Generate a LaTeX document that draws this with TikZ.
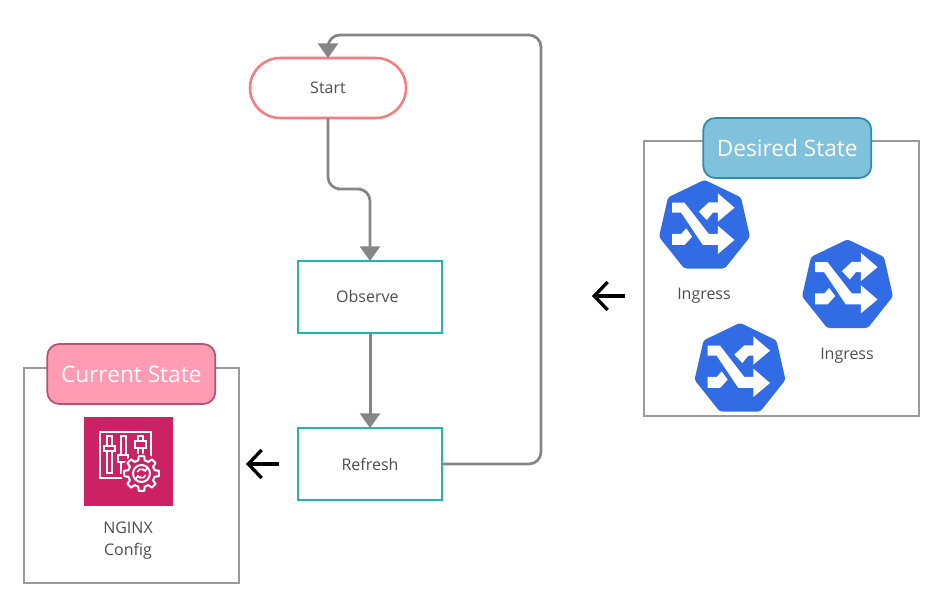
\documentclass[tikz,border=0pt]{standalone}
\usepackage{fontspec}
\setmainfont{Open Sans}
\usepackage{tikz}
\usetikzlibrary{arrows.meta,shapes.geometric,shapes.misc}
\definecolor{linegray}{HTML}{858585}
\definecolor{boxgray}{HTML}{9A9A9A}
\definecolor{labelgray}{HTML}{4D4D4D}
\definecolor{startred}{HTML}{F97B82}
\definecolor{stepteal}{HTML}{22B3B3}
\definecolor{currentfill}{HTML}{FF9BB3}
\definecolor{currentline}{HTML}{B5526F}
\definecolor{desiredfill}{HTML}{80C2DC}
\definecolor{desiredline}{HTML}{2F8CA8}
\definecolor{ingressblue}{HTML}{326CE5}
\definecolor{configred}{HTML}{CC2264}
\tikzset{
    labelnode/.style = {
        align=center,
        font=\fontsize{12pt}{16.5pt}\selectfont,
        text=labelgray,
        inner sep=0pt,
        outer sep=0pt
    },
    startnode/.style = {
        labelnode,
        rounded rectangle,
        draw=startred,
        line width=1.9pt,
        minimum width=117pt,
        minimum height=45pt
    },
    stepnode/.style = {
        labelnode,
        rectangle,
        draw=stepteal,
        line width=1.5pt,
        minimum width=108pt,
        minimum height=54pt
    },
    framenode/.style = {
        rectangle,
        draw=boxgray,
        line width=1.5pt,
        inner sep=0pt,
        outer sep=0pt
    },
    headernode/.style = {
        rectangle,
        rounded corners=9pt,
        line width=1.3pt,
        text=white,
        font=\fontsize{17pt}{20pt}\selectfont,
        minimum width=126pt,
        minimum height=45pt,
        inner sep=0pt,
        outer sep=0pt
    },
    ingressnode/.style = {
        regular polygon,
        regular polygon sides=7,
        minimum size=70pt,
        fill=ingressblue,
        rounded corners=2pt,
        inner sep=0pt,
        outer sep=0pt
    },
    flowline/.style = {
        draw=linegray,
        line width=2pt,
        rounded corners=9pt,
        -{Triangle[length=11pt,width=15pt]}
    },
    stateline/.style = {
        draw=black,
        line width=2.5pt,
        -{Straight Barb[length=10pt,width=21pt,line width=2.5pt]}
    },
    iconline/.style = {
        draw=white,
        line width=1.5pt
    }
}

\begin{document}
\begin{tikzpicture}[x=0.75pt,y=-0.75pt]
    \useasboundingbox (0,0) rectangle (950,609);
    % flow
    \node [startnode] (start) at (328,88) {Start};
    \node [stepnode] (observe) at (370,297) {\hspace*{-2pt}Observe\hspace*{2pt}};
    \node [stepnode] (refresh) at (370,464) {Refresh};
    \coordinate (startbend) at (349,189);
    \coordinate (looptop) at (541,35);
    \draw [flowline] (start.south) |- (startbend) -| (observe.north);
    \draw [flowline, line width=2.25pt] (observe.south) -- (refresh.north);
    \draw [flowline] (refresh.east) -| (looptop) -| (start.north);
    % state boxes
    \node [framenode, minimum width=161.25pt, minimum height=161.25pt] (currentbox) at (131.5,475.5) {};
    \node [framenode, minimum width=206.25pt, minimum height=206.25pt] (desiredbox) at (781.5,278.5) {};
    \node [headernode, fill=currentfill, draw=currentline] (currenthead) at (131.3,374) {\raisebox{-1pt}{Current State}};
    \node [headernode, fill=desiredfill, draw=desiredline] (desiredhead) at (787.3,148) {\raisebox{-1pt}{Desired State}};
    \coordinate (desiredfrom) at (625,296);
    \coordinate (desiredto) at (592,296);
    \coordinate (currentfrom) at (279,464);
    \coordinate (currentto) at (246,464);
    \draw [stateline] (desiredfrom) -- (desiredto);
    \draw [stateline] (currentfrom) -- (currentto);
    % ingress icons
    \foreach \name/\x/\y in {ingressa/704.5/226.5, ingressb/847.5/286, ingressc/740/369.5} {
        \node [ingressnode] (\name) at (\x,\y) {};
        \begin{scope}[shift={(\x,\y)}, xshift=-55*0.75pt, yshift=56.5*0.75pt, x=0.25pt, y=-0.25pt]
            \fill [white] (148,125) -- (178,97) -- (205,97) -- (205,70) -- (255,113) -- (205,155) -- (205,128) -- (190,128) -- (172,150) -- cycle;
            \fill [white] (68,98) -- (105,98) -- (178,192) -- (205,192) -- (205,167) -- (255,210) -- (205,252) -- (205,225) -- (160,225) -- (95,128) -- (68,128) -- cycle;
            \fill [white] (68,192) -- (95,192) -- (110,175) -- (128,200) -- (105,225) -- (68,225) -- cycle;
        \end{scope}
    }
    \node [labelnode] (ingressalabel) at (704,295.5) {Ingress};
    \node [labelnode] (ingressblabel) at (847,355.5) {Ingress};
    % config icon
    \node [rectangle, fill=configred, minimum size=67pt, inner sep=0pt, outer sep=0pt] (config) at (128.5,461.5) {};
    \begin{scope}[shift={(config.center)}, x=0.75pt, y=-0.75pt]
        \draw [iconline] (-29,-29) rectangle (22,17);
        % sliders
        \draw [iconline] (-22,-25) rectangle (-17,12);
        \draw [iconline, fill=configred] (-25,-15) rectangle (-14,-10);
        \draw [iconline] (-8,-25) rectangle (-3,12);
        \draw [iconline, fill=configred] (-10.5,-6.5) rectangle (-0.5,1);
        \draw [iconline] (9,-25) rectangle (14,-5);
        \draw [iconline, fill=configred] (6,-20) rectangle (17.5,-13);
        % gear
        \fill [configred] (13,12) circle (20);
        \draw [iconline, fill=configred, line join=round, shift={(13,12)}]
            (-9:17.5) \foreach \a in {0,45,...,315} {
                -- (\a-9:17.5) -- (\a+9:17.5) -- (\a+14:13.5) -- (\a+31:13.5)
            } -- cycle;
        \draw [iconline, shift={(13,12)}] (0,0) circle (8.5);
        \draw [iconline, line width=1.2pt, -{Straight Barb[length=1.5pt,width=3.5pt]}, shift={(13,12)}] (200:4.5) arc (200:340:4.5);
        \draw [iconline, line width=1.2pt, -{Straight Barb[length=1.5pt,width=3.5pt]}, shift={(13,12)}] (20:4.5) arc (20:160:4.5);
    \end{scope}
    \node [labelnode] (configlabel) at (128,540.5) {NGINX\\Config};
\end{tikzpicture}
\end{document}
